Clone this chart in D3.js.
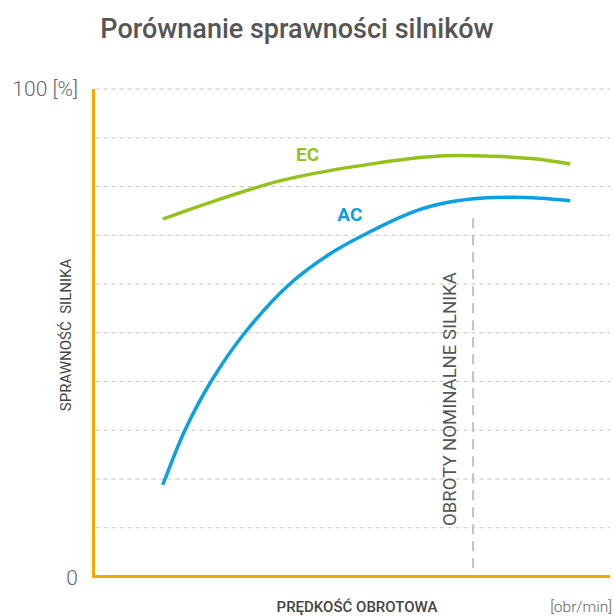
<!DOCTYPE html>
<html>
<head>
<meta charset="utf-8">
<script src="https://cdn.jsdelivr.net/npm/d3@7"></script>
<style>
  html, body { margin: 0; padding: 0; background: #fff; }
  svg { display: block; font-family: Roboto, "Noto Sans", sans-serif; }
</style>
</head>
<body>
<svg id="chart" width="614" height="616"></svg>
<script>
// ---- data (x: position along speed axis, 0-100 of axis length; y: efficiency %) ----
const title = "Porównanie sprawności silników";
const yTickValues = [0, 10, 20, 30, 40, 50, 60, 70, 80, 90, 100];
const yTickLabels = ["0", "100 [%]"];
const ecX = [13.4, 23.9, 35.5, 43.3, 55.5, 61.9, 68.4, 73.5, 81.2, 87.7, 92.3];
const ecY = [73.3, 77.2, 81.0, 82.8, 84.9, 85.8, 86.3, 86.3, 86.0, 85.4, 84.6];
const acX = [13.4, 13.85, 17.7, 22.75, 29.3, 38.0, 45.8, 52.2, 61.9, 68.4, 74.9, 81.2, 86.5, 92.3];
const acY = [18.8, 20.0, 30.0, 40.0, 50.0, 60.0, 66.2, 70.0, 74.8, 76.7, 77.6, 77.8, 77.6, 77.1];
const seriesNames = ["EC", "AC"];
const seriesColors = ["#95c11f", "#0ca0e0"];
const seriesLabelPos = [{x: 39.2, y: 85.2}, {x: 47.2, y: 73.0}];
const nominalX = 73.5;
const nominalRange = [1.5, 73.5];
const nominalLabel = "OBROTY NOMINALNE SILNIKA";
const yAxisTitle = "SPRAWNOŚĆ  SILNIKA";
const xAxisTitle = "PRĘDKOŚĆ OBROTOWA";
const xUnit = "[obr/min]";

const svg = d3.select("#chart");
const x = d3.scaleLinear().domain([0, 100]).range([93.5, 610]);
const y = d3.scaleLinear().domain([0, 100]).range([576.5, 89]);

// title
svg.append("text")
  .attr("x", 297).attr("y", 38)
  .attr("text-anchor", "middle")
  .attr("font-size", 27).attr("font-weight", 500)
  .attr("fill", "#555")
  .text(title);

// grid
svg.append("g").selectAll("line")
  .data(yTickValues.filter(d => d > 0))
  .join("line")
  .attr("x1", x(0) + 2).attr("x2", x(100))
  .attr("y1", d => y(d)).attr("y2", d => y(d))
  .attr("stroke", "#c4c4c4").attr("stroke-width", 1)
  .attr("stroke-dasharray", "4,4");

// nominal speed line
svg.append("line")
  .attr("x1", x(nominalX)).attr("x2", x(nominalX))
  .attr("y1", y(nominalRange[1])).attr("y2", y(nominalRange[0]))
  .attr("stroke", "#c0c0c0").attr("stroke-width", 2)
  .attr("stroke-dasharray", "10,7");

svg.append("text")
  .attr("transform", `translate(${x(nominalX) - 17},${y(36.4)}) rotate(-90)`)
  .attr("text-anchor", "middle")
  .attr("font-size", 18.5)
  .attr("fill", "#555")
  .text(nominalLabel);

// series
const xs = [ecX, acX], ys = [ecY, acY];
const line = d3.line().x(d => x(d[0])).y(d => y(d[1])).curve(d3.curveCatmullRom.alpha(0.5));
seriesNames.forEach((name, i) => {
  const pts = xs[i].map((v, j) => [v, ys[i][j]]);
  svg.append("path")
    .attr("d", line(pts))
    .attr("fill", "none")
    .attr("stroke", seriesColors[i])
    .attr("stroke-width", 3.5)
    .attr("stroke-linecap", "butt");
  svg.append("text")
    .attr("x", x(seriesLabelPos[i].x)).attr("y", y(seriesLabelPos[i].y))
    .attr("font-size", 19).attr("font-weight", 700)
    .attr("fill", seriesColors[i])
    .text(name);
});

// axes (orange)
const axisColor = "#f6a800";
svg.append("line")
  .attr("x1", x(0)).attr("x2", x(0))
  .attr("y1", y(100)).attr("y2", y(0) + 1.5)
  .attr("stroke", axisColor).attr("stroke-width", 3);
svg.append("line")
  .attr("x1", x(0) - 1.5).attr("x2", x(100))
  .attr("y1", y(0)).attr("y2", y(0))
  .attr("stroke", axisColor).attr("stroke-width", 3);

// y tick labels
svg.append("text")
  .attr("x", 78).attr("y", y(0) + 8)
  .attr("text-anchor", "end")
  .attr("font-size", 21).attr("font-weight", 300)
  .attr("fill", "#666")
  .text(yTickLabels[0]);
svg.append("text")
  .attr("x", 78).attr("y", y(100) + 7)
  .attr("text-anchor", "end")
  .attr("font-size", 21).attr("font-weight", 300)
  .attr("fill", "#666")
  .text(yTickLabels[1]);

// y axis title
svg.append("text")
  .attr("transform", `translate(71,335) rotate(-90)`)
  .attr("text-anchor", "middle")
  .attr("font-size", 15)
  .attr("fill", "#444")
  .attr("xml:space", "preserve")
  .style("white-space", "pre")
  .text(yAxisTitle);

// x axis title
svg.append("text")
  .attr("x", 357).attr("y", 612)
  .attr("text-anchor", "middle")
  .attr("font-size", 15).attr("font-weight", 500)
  .attr("fill", "#444")
  .text(xAxisTitle);
svg.append("text")
  .attr("x", 612).attr("y", 612)
  .attr("text-anchor", "end")
  .attr("font-size", 15.5).attr("font-weight", 300)
  .attr("fill", "#666")
  .text(xUnit);
</script>
</body>
</html>
